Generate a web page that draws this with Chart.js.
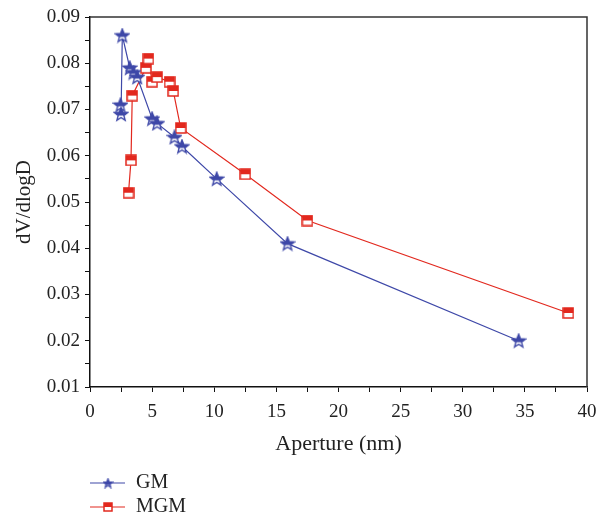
<!DOCTYPE html>
<html>
<head>
<meta charset="utf-8">
<script src="https://cdn.jsdelivr.net/npm/chart.js@4/dist/chart.umd.min.js"></script>
<style>
  html, body { margin: 0; padding: 0; background: #fff; }
  #wrap { width: 597px; height: 514px; }
</style>
</head>
<body>
<div id="wrap"><canvas id="myChart" width="597" height="514"></canvas></div>
<script>
// data
const gmX = [2.45, 2.5, 2.6, 3.2, 3.5, 3.8, 5.0, 5.4, 6.8, 7.4, 10.2, 15.9, 34.5]
const gmY = [0.071, 0.069, 0.086, 0.079, 0.078, 0.077, 0.068, 0.067, 0.064, 0.062, 0.055, 0.041, 0.020]
const mgmX = [3.1, 3.3, 3.4, 4.5, 4.7, 5.0, 5.4, 6.4, 6.7, 7.3, 12.5, 17.5, 38.5]
const mgmY = [0.052, 0.059, 0.073, 0.079, 0.081, 0.076, 0.077, 0.076, 0.074, 0.066, 0.056, 0.046, 0.026]
const seriesNames = ['GM', 'MGM']
const xTitle = 'Aperture (nm)'
const yTitle = 'dV/dlogD'

const BLUE = 'rgb(62,72,168)'
const RED = 'rgb(226,40,30)'
const FONT = '"Liberation Serif", "DejaVu Serif", serif'

function toPoints(xs, ys) {
  return xs.map((x, i) => ({ x: x, y: ys[i] }))
}

// star marker, top half filled (Origin style)
function starImage(color, size) {
  const c = document.createElement('canvas')
  c.width = size; c.height = size
  const g = c.getContext('2d')
  const cx = size / 2, cy = size / 2 + 0.5, ro = size / 2 - 1, ri = ro * 0.43
  g.beginPath()
  for (let i = 0; i < 10; i++) {
    const r = i % 2 ? ri : ro
    const a = -Math.PI / 2 + i * Math.PI / 5
    g.lineTo(cx + r * Math.cos(a), cy + r * Math.sin(a))
  }
  g.closePath()
  g.fillStyle = '#fff'
  g.fill()
  g.save()
  g.clip()
  g.fillStyle = color
  g.fillRect(0, 0, size, cy + 1)
  g.restore()
  g.strokeStyle = color
  g.lineWidth = 1.4
  g.stroke()
  return c
}

// square marker, top half filled
function squareImage(color, size) {
  const c = document.createElement('canvas')
  c.width = size; c.height = size
  const g = c.getContext('2d')
  const s = size - 2
  g.fillStyle = '#fff'
  g.fillRect(1, 1, s, s)
  g.fillStyle = color
  g.fillRect(1, 1, s, s / 2)
  g.strokeStyle = color
  g.lineWidth = 1.5
  g.strokeRect(1, 1, s, s)
  return c
}

const markers = [starImage(BLUE, 16), squareImage(RED, 12)]
const legendMarkers = [starImage(BLUE, 11), squareImage(RED, 10)]

// box around plot + stacked legend under the axis
const framePlugin = {
  id: 'frame',
  afterDraw(chart) {
    const { ctx, chartArea: a } = chart
    ctx.save()
    ctx.strokeStyle = '#333'
    ctx.lineWidth = 1.5
    ctx.beginPath()
    ctx.moveTo(a.left, a.top)
    ctx.lineTo(a.right, a.top)
    ctx.lineTo(a.right, a.bottom)
    ctx.stroke()

    chart.data.datasets.forEach((ds, i) => {
      const y = 483 + i * 24
      ctx.strokeStyle = ds.borderColor
      ctx.lineWidth = 1.2
      ctx.beginPath()
      ctx.moveTo(90, y)
      ctx.lineTo(125, y)
      ctx.stroke()
      const img = legendMarkers[i]
      ctx.drawImage(img, 108 - img.width / 2, y - img.height / 2)
      ctx.fillStyle = '#222'
      ctx.font = '20px ' + FONT
      ctx.textBaseline = 'middle'
      ctx.fillText(ds.label, 136, y)
    })
    ctx.restore()
  }
}

function updateGraph() {
  const ctx = document.getElementById('myChart').getContext('2d')
  const chart = new Chart(ctx, {
    type: 'line',
    data: {
      datasets: [{
        label: seriesNames[0],
        data: toPoints(gmX, gmY),
        borderColor: BLUE,
        backgroundColor: BLUE,
        borderWidth: 1.2,
        pointStyle: markers[0],
        tension: 0
      }, {
        label: seriesNames[1],
        data: toPoints(mgmX, mgmY),
        borderColor: RED,
        backgroundColor: RED,
        borderWidth: 1.2,
        pointStyle: markers[1],
        tension: 0
      }]
    },
    plugins: [framePlugin],
    options: {
      responsive: false,
      animation: false,
      layout: { padding: { top: 17, right: 10, bottom: 57, left: 0 } },
      plugins: {
        legend: { display: false },
        tooltip: { enabled: false }
      },
      scales: {
        x: {
          type: 'linear',
          min: 0, max: 40,
          afterFit: s => { s.height = 70; s.paddingRight = 0; s.paddingLeft = 0 },
          border: { color: '#111', width: 1.5 },
          grid: { drawOnChartArea: false, tickLength: 5, color: '#111' },
          ticks: {
            stepSize: 2.5,
            autoSkip: false,
            maxRotation: 0,
            padding: 9,
            color: '#222',
            font: { family: FONT, size: 19 },
            callback: v => (v % 5 === 0 ? String(v) : '')
          },
          title: {
            display: true, text: xTitle, color: '#222',
            font: { family: FONT, size: 22 },
            padding: { top: 2, bottom: 0 }
          }
        },
        y: {
          min: 0.01, max: 0.09,
          afterFit: s => { s.width = 90; s.paddingTop = 0; s.paddingBottom = 0 },
          border: { color: '#111', width: 1.5 },
          grid: { drawOnChartArea: false, tickLength: 5, color: '#111' },
          ticks: {
            stepSize: 0.005,
            autoSkip: false,
            padding: 5,
            color: '#222',
            font: { family: FONT, size: 19 },
            callback: v => (Math.round(v * 1000) % 10 === 0 ? v.toFixed(2) : '')
          },
          title: {
            display: true, text: yTitle, color: '#222',
            font: { family: FONT, size: 21 },
            padding: { top: 12, bottom: 0 }
          }
        }
      }
    }
  })
}

updateGraph()
</script>
</body>
</html>
